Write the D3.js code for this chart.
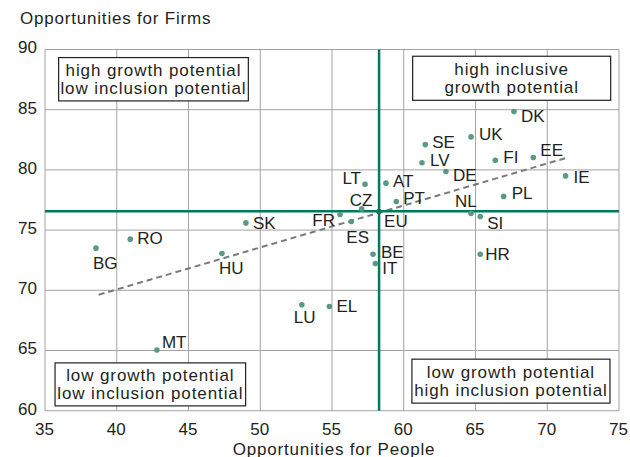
<!DOCTYPE html>
<html>
<head>
<meta charset="utf-8">
<script src="https://cdn.jsdelivr.net/npm/d3@7"></script>
<style>
  body { margin: 0; background: #fff; }
  svg { font-family: "Liberation Sans", Arial, sans-serif; }
</style>
</head>
<body>
<svg id="chart" width="630" height="457"></svg>
<script>
// Data
const countries = ["BG", "RO", "HU", "SK", "MT", "LU", "EL", "BE", "IT", "HR", "ES", "FR", "CZ", "LT", "AT", "PT", "EU",
  "DK", "UK", "SE", "LV", "DE", "FI", "EE", "IE", "PL", "NL", "SI"];
const people = [38.55, 40.94, 47.33, 49.0, 42.8, 52.9, 54.82, 57.86, 58.02, 65.33, 56.35, 55.56, 57.07, 57.3, 58.76, 59.48, 58.28,
  67.68, 64.69, 61.5, 61.27, 62.94, 66.38, 69.03, 71.28, 66.96, 64.69, 65.33];
const firms = [73.5, 74.25, 73.06, 75.6, 65.04, 68.8, 68.66, 73.0, 72.23, 73.0, 75.72, 76.3, 76.76, 78.8, 78.9, 77.38, 76.55,
  84.85, 82.74, 82.1, 80.6, 79.87, 80.8, 81.03, 79.5, 77.8, 76.38, 76.13];
const xTicks = [35, 40, 45, 50, 55, 60, 65, 70, 75];
const yTicks = [60, 65, 70, 75, 80, 85, 90];
const euAverage = { people: 58.28, firms: 76.57 };
const trend = [[38.74, 69.63], [71.42, 81.03]];
const quadrantText = [
  ["high growth potential", "low inclusion potential"],
  ["high inclusive", "growth potential"],
  ["low growth potential", "low inclusion potential"],
  ["low growth potential", "high inclusion potential"]
];

// label placement (pixel offsets from the dot), anchor
const labelPos = {
  BG: [-3, 21, "start"], RO: [7, 5, "start"], HU: [-3, 21, "start"], SK: [7, 6, "start"],
  MT: [5, -2, "start"], LU: [-8, 18, "start"], EL: [7, 6, "start"], BE: [8, 4, "start"],
  IT: [7, 11, "start"], HR: [5, 6, "start"], ES: [-5, 22, "start"], FR: [-5, 12, "end"],
  CZ: [-12, -3, "start"], LT: [-4, 0, "end"], AT: [7, 4, "start"], PT: [7, 3, "start"],
  EU: [5, 16, "start"], DK: [7, 10, "start"], UK: [8, 3, "start"], SE: [7, 3, "start"],
  LV: [8, 3, "start"], DE: [7, 10, "start"], FI: [8, 3, "start"], EE: [7, -1, "start"],
  IE: [8, 7, "start"], PL: [8, 3, "start"], NL: [-16, -6, "start"], SI: [7, 13, "start"]
};

const svg = d3.select("#chart");
const textColor = "#231f20";
const green = "#007a5e";

const x = d3.scaleLinear().domain([35, 75]).range([45, 619]);
const y = d3.scaleLinear().domain([60, 90]).range([410.7, 49.5]);

// grid
svg.append("g").selectAll("line")
  .data(xTicks)
  .join("line")
  .attr("x1", d => x(d)).attr("x2", d => x(d))
  .attr("y1", y(60)).attr("y2", y(90))
  .attr("stroke", "#a3a3a3").attr("stroke-width", 1);

svg.append("g").selectAll("line")
  .data(yTicks)
  .join("line")
  .attr("x1", x(35)).attr("x2", x(75))
  .attr("y1", d => y(d)).attr("y2", d => y(d))
  .attr("stroke", "#a3a3a3").attr("stroke-width", 1);

// axes tick labels
const xAxis = d3.axisBottom(x).tickValues(xTicks).tickSize(0).tickPadding(0);
const gx = svg.append("g").attr("transform", "translate(-1,0)").call(xAxis);
gx.select(".domain").remove();
gx.selectAll("text")
  .attr("y", 435).attr("dy", null)
  .attr("font-size", 17).attr("font-family", null).attr("fill", textColor);

const yAxis = d3.axisLeft(y).tickValues(yTicks).tickSize(0).tickPadding(0);
const gy = svg.append("g").attr("transform", "translate(37,0)").call(yAxis);
gy.select(".domain").remove();
gy.selectAll("text")
  .attr("x", 0).attr("dy", "0.2em")
  .attr("font-size", 17).attr("font-family", null).attr("fill", textColor);

// axis titles
svg.append("text")
  .attr("x", 20).attr("y", 24)
  .attr("font-size", 17).attr("letter-spacing", 0.8).attr("fill", textColor)
  .text("Opportunities for Firms");

svg.append("text")
  .attr("x", 334).attr("y", 455).attr("text-anchor", "middle")
  .attr("font-size", 17).attr("letter-spacing", 0.8).attr("fill", textColor)
  .text("Opportunities for People");

// trend line
svg.append("line")
  .attr("x1", x(trend[0][0])).attr("y1", y(trend[0][1]))
  .attr("x2", x(trend[1][0])).attr("y2", y(trend[1][1]))
  .attr("stroke", "#7a7a7a").attr("stroke-width", 2)
  .attr("stroke-dasharray", "6,4");

// EU average lines
svg.append("line")
  .attr("x1", x(euAverage.people)).attr("x2", x(euAverage.people))
  .attr("y1", y(60)).attr("y2", y(90))
  .attr("stroke", green).attr("stroke-width", 2.5);
svg.append("line")
  .attr("x1", x(35)).attr("x2", x(75))
  .attr("y1", y(euAverage.firms)).attr("y2", y(euAverage.firms))
  .attr("stroke", green).attr("stroke-width", 2.5);

// points
const points = countries.map((c, i) => ({ c, px: people[i], fy: firms[i] }));

svg.append("g").selectAll("circle")
  .data(points)
  .join("circle")
  .attr("cx", d => x(d.px))
  .attr("cy", d => y(d.fy))
  .attr("r", 2.8)
  .attr("fill", d => d.c === "EU" ? green : "#5a9a84");

svg.append("g").selectAll("text")
  .data(points)
  .join("text")
  .attr("x", d => x(d.px) + labelPos[d.c][0])
  .attr("y", d => y(d.fy) + labelPos[d.c][1])
  .attr("text-anchor", d => labelPos[d.c][2])
  .attr("font-size", 17)
  .attr("fill", textColor)
  .text(d => d.c);

// quadrant boxes
const boxes = [
  { x0: 35.95, x1: 49.17, y0: 89.33, y1: 85.73 },
  { x0: 60.62, x1: 74.42, y0: 89.44, y1: 85.78 },
  { x0: 35.7, x1: 48.98, y0: 63.97, y1: 60.4 },
  { x0: 60.57, x1: 74.37, y0: 64.28, y1: 60.63 }
];

boxes.forEach((b, i) => {
  const bx = x(b.x0), by = y(b.y0), bw = x(b.x1) - x(b.x0), bh = y(b.y1) - y(b.y0);
  svg.append("rect")
    .attr("x", bx).attr("y", by).attr("width", bw).attr("height", bh)
    .attr("fill", "#fff").attr("stroke", "#231f20").attr("stroke-width", 1.2);
  const cx = bx + bw / 2, cy = by + bh / 2;
  svg.append("g").selectAll("text")
    .data(quadrantText[i])
    .join("text")
    .attr("x", cx)
    .attr("y", (d, j) => cy - 3 + j * 17.4)
    .attr("text-anchor", "middle")
    .attr("font-size", 17)
    .attr("letter-spacing", 0.9)
    .attr("fill", textColor)
    .text(d => d);
});
</script>
</body>
</html>
